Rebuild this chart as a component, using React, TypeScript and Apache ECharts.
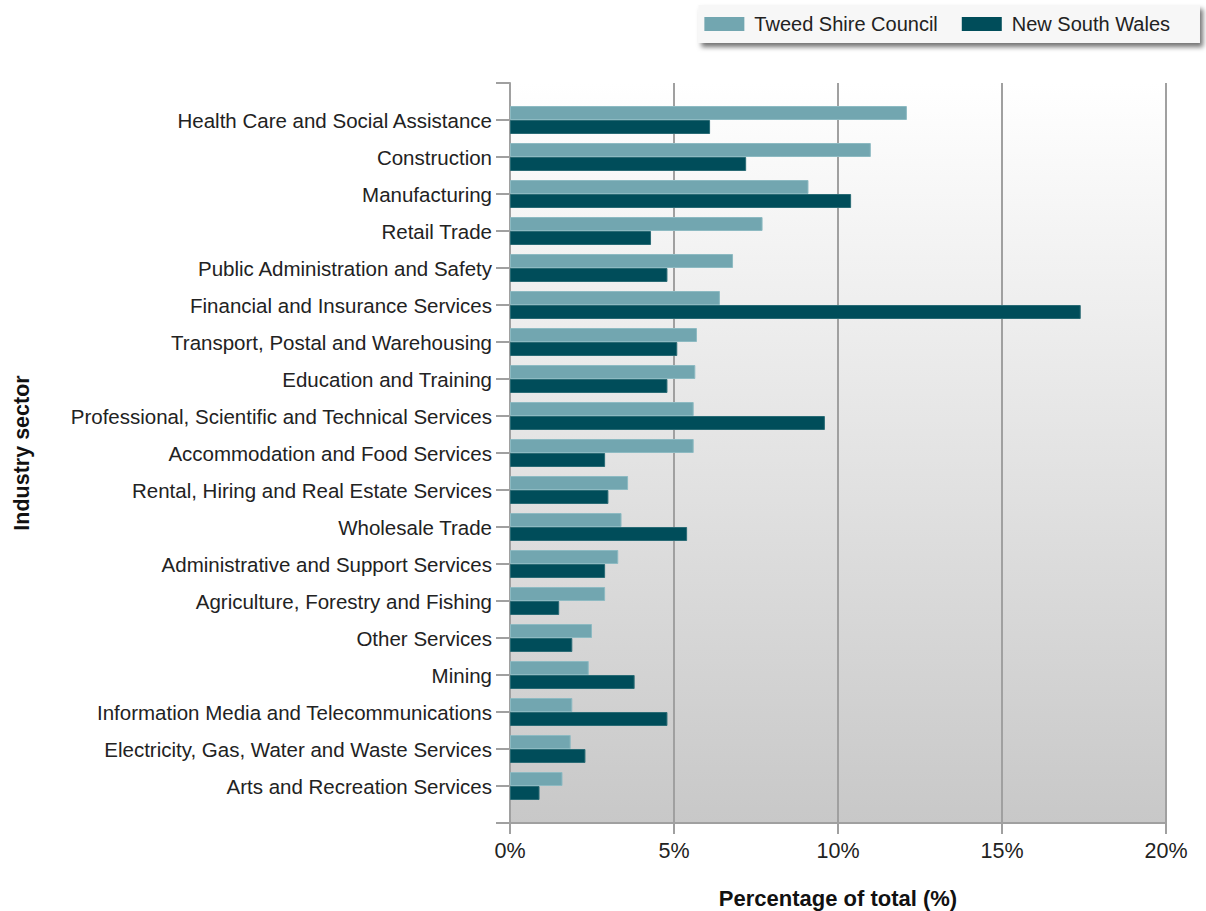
import React, { useEffect, useRef } from "react";
import * as echarts from "echarts";

const categories = [
  "Health Care and Social Assistance",
  "Construction",
  "Manufacturing",
  "Retail Trade",
  "Public Administration and Safety",
  "Financial and Insurance Services",
  "Transport, Postal and Warehousing",
  "Education and Training",
  "Professional, Scientific and Technical Services",
  "Accommodation and Food Services",
  "Rental, Hiring and Real Estate Services",
  "Wholesale Trade",
  "Administrative and Support Services",
  "Agriculture, Forestry and Fishing",
  "Other Services",
  "Mining",
  "Information Media and Telecommunications",
  "Electricity, Gas, Water and Waste Services",
  "Arts and Recreation Services",
];

const tweed = [12.1, 11.0, 9.1, 7.7, 6.8, 6.4, 5.7, 5.65, 5.6, 5.6, 3.6, 3.4, 3.3, 2.9, 2.5, 2.4, 1.9, 1.85, 1.6];
const nsw = [6.1, 7.2, 10.4, 4.3, 4.8, 17.4, 5.1, 4.8, 9.6, 2.9, 3.0, 5.4, 2.9, 1.5, 1.9, 3.8, 4.8, 2.3, 0.9];

const xTicks = [0, 5, 10, 15, 20];

const seriesNames = ["Tweed Shire Council", "New South Wales"];
const colors = ["#72a6b0", "#004d5a"];

const FONT = "'Liberation Sans', Arial, sans-serif";

export default function App() {
  const ref = useRef<HTMLDivElement>(null);
  useEffect(() => {
    if (!ref.current) return;
    const chart = echarts.init(ref.current, undefined, { renderer: "svg" });
    const cats = ["", ...categories, ""];
    const pad = (arr: number[]) => [null, ...arr, null];
    chart.setOption({
      animation: false,
      textStyle: { fontFamily: FONT },
      legend: {
        right: 6,
        top: 5,
        icon: "rect",
        itemWidth: 40,
        itemHeight: 14,
        itemGap: 24,
        padding: [9, 30, 9, 6],
        backgroundColor: "#f7f7f7",
        shadowColor: "rgba(0,0,0,0.55)",
        shadowBlur: 5,
        shadowOffsetX: 3,
        shadowOffsetY: 4,
        textStyle: { fontSize: 20, color: "#222", fontFamily: FONT, padding: [0, 0, 0, 5] },
        data: seriesNames.map((n) => ({ name: n, itemStyle: { borderWidth: 0 } })),
      },
      grid: {
        left: 510,
        right: 40,
        top: 83,
        height: 740,
        outerBoundsMode: "none",
        containLabel: false,
        show: true,
        borderWidth: 0,
        backgroundColor: new echarts.graphic.LinearGradient(0, 0, 0, 1, [
          { offset: 0, color: "#ffffff" },
          { offset: 1, color: "#c8c8c8" },
        ]),
      },
      xAxis: {
        type: "value",
        min: xTicks[0],
        max: xTicks[xTicks.length - 1],
        interval: 5,
        name: "Percentage of total (%)",
        nameLocation: "middle",
        nameGap: 64,
        nameTextStyle: { fontSize: 22, fontWeight: "bold", color: "#111", fontFamily: FONT },
        axisLine: { show: true, lineStyle: { color: "#a0a0a0", width: 2 } },
        axisTick: { show: true, length: 11, lineStyle: { color: "#a0a0a0", width: 2 } },
        axisLabel: { fontSize: 21.5, color: "#222", margin: 17, formatter: "{value}%", fontFamily: FONT },
        splitLine: { show: true, lineStyle: { color: "#a0a0a0", width: 2 } },
      },
      yAxis: {
        type: "category",
        data: cats,
        inverse: true,
        boundaryGap: false,
        name: "Industry sector",
        nameLocation: "middle",
        nameGap: 477,
        nameTextStyle: { fontSize: 21.5, fontWeight: "bold", color: "#111", fontFamily: FONT },
        axisLine: { show: true, lineStyle: { color: "#a0a0a0", width: 2 } },
        axisTick: { show: true, length: 14, alignWithLabel: true, lineStyle: { color: "#a0a0a0", width: 2 } },
        axisLabel: { fontSize: 20.5, color: "#222", margin: 18, interval: 0, fontFamily: FONT },
        splitLine: { show: false },
      },
      series: [
        {
          name: seriesNames[0],
          type: "bar",
          data: pad(tweed),
          barWidth: 14,
          barGap: "0%",
          itemStyle: { color: colors[0], borderColor: "#8dbac2", borderWidth: 1 },
        },
        {
          name: seriesNames[1],
          type: "bar",
          data: pad(nsw),
          barWidth: 14,
          barGap: "0%",
          itemStyle: { color: colors[1], borderColor: "#2a6b75", borderWidth: 1 },
        },
      ],
    });
    return () => chart.dispose();
  }, []);
  return (
    <div
      ref={ref}
      style={{ position: "absolute", left: 0, top: 0, width: 1206, height: 911 }}
    />
  );
}
